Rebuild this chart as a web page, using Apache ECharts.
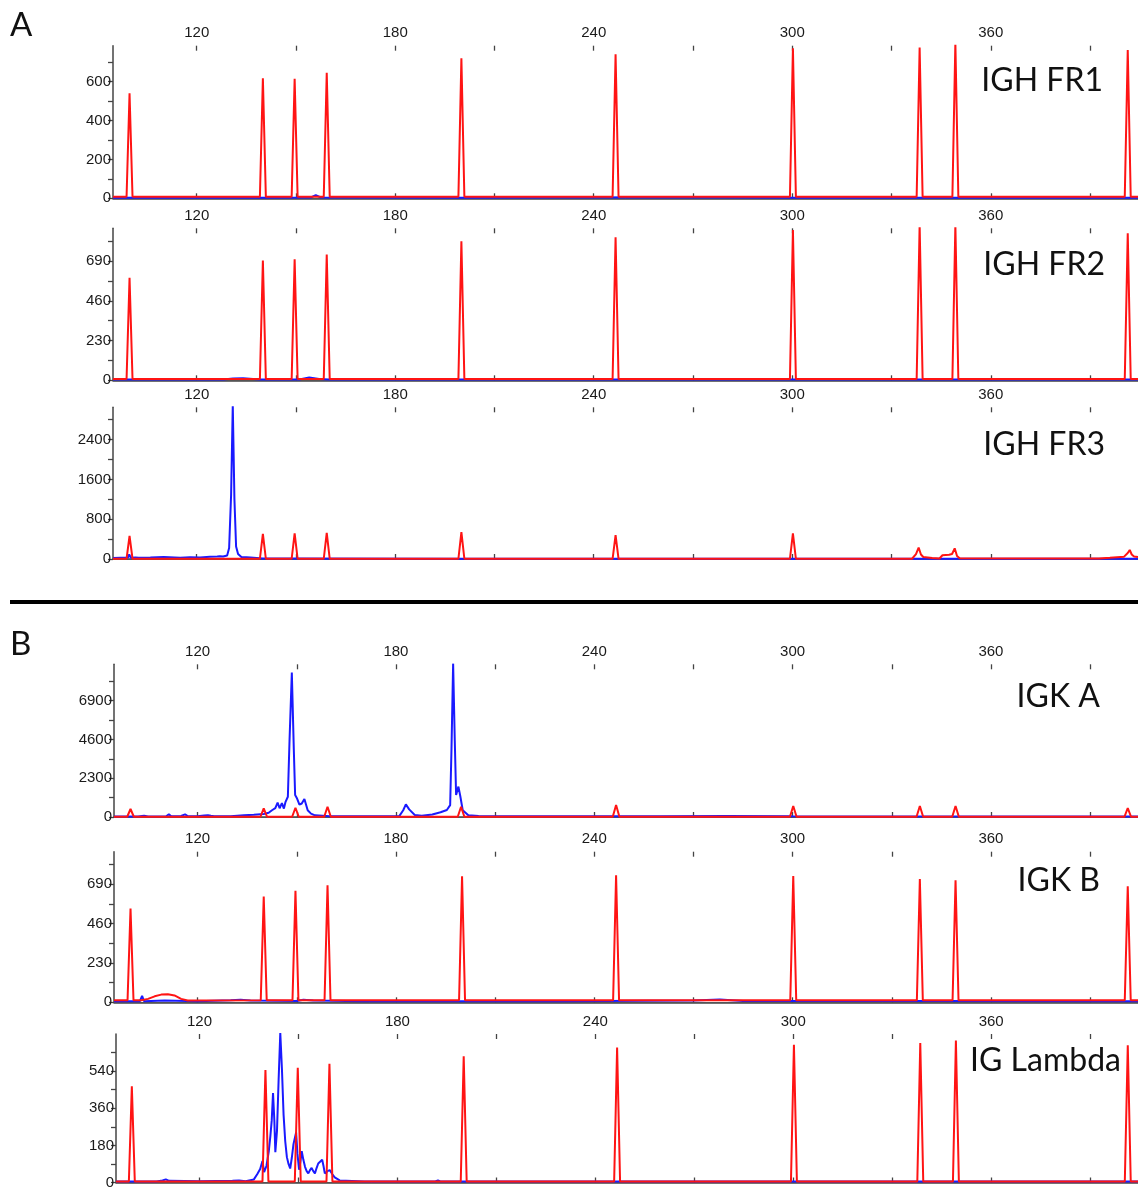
<!DOCTYPE html>
<html>
<head>
<meta charset="utf-8">
<title>IGH / IGK / IG Lambda</title>
<script src="https://cdn.jsdelivr.net/npm/echarts@6.0.0/dist/echarts.min.js"></script>
<style>
html, body { margin: 0; padding: 0; background: #fff; }
#chart { width: 1138px; height: 1190px; }
</style>
</head>
<body>
<div id="chart"></div>
<script>
// size axis (bp), shared by all panels
var sizeMin = 94.7, sizeMax = 404.5;
var sizeLabels = [120, 180, 240, 300, 360];
var sizeTicks = [120, 150, 180, 210, 240, 270, 300, 330, 360, 390];

var panelNames = ['IGH FR1', 'IGH FR2', 'IGH FR3', 'IGK A', 'IGK B', 'IG Lambda'];
var rfuMax = [785, 880, 3050, 9050, 880, 720];
var rfuLabels = [
	[0, 200, 400, 600],
	[0, 230, 460, 690],
	[0, 800, 1600, 2400],
	[0, 2300, 4600, 6900],
	[0, 230, 460, 690],
	[0, 180, 360, 540]
];
var rfuTicks = [
	[0, 100, 200, 300, 400, 500, 600, 700],
	[0, 115, 230, 345, 460, 575, 690, 805],
	[0, 400, 800, 1200, 1600, 2000, 2400, 2800],
	[0, 1150, 2300, 3450, 4600, 5750, 6900, 8050],
	[0, 115, 230, 345, 460, 575, 690, 805],
	[0, 90, 180, 270, 360, 450, 540, 630]
];

// traces: [size, rfu]
var fr1Red = [[94.7,8],[98.8,8],[99.7,540],[100.6,8],[139.1,8],[140.0,617],[140.9,8],[148.7,8],[149.6,615],[150.5,8],
	[158.4,8],[159.3,646],[160.2,8],[199.1,8],[200.0,720],[200.9,8],[245.7,8],[246.6,741],[247.5,8],[299.3,8],[300.2,772],[301.1,8],
	[337.6,8],[338.5,775],[339.4,8],[348.4,8],[349.3,800],[350.2,8],[400.5,8],[401.4,763],[402.3,8],[404.5,8]];
var fr1Blue = [[94.7,3],[130,4],[140,3],[154.5,4],[156,16],[157.5,4],[200,3],[260,5],[300,3],[404.5,3]];

var fr2Red = [[94.7,8],[98.8,8],[99.7,593],[100.6,8],[139.1,8],[140.0,694],[140.9,8],[148.7,8],[149.6,701],[150.5,8],
	[158.4,8],[159.3,728],[160.2,8],[199.1,8],[200.0,805],[200.9,8],[245.7,8],[246.6,828],[247.5,8],[299.3,8],[300.2,870],[301.1,8],
	[337.6,8],[338.5,900],[339.4,8],[348.4,8],[349.3,900],[350.2,8],[400.5,8],[401.4,851],[402.3,8],[404.5,8]];
var fr2Blue = [[94.7,4],[128,4],[131,10],[134,12],[137,8],[139,4],[151,5],[154,16],[157,7],[160,4],[250,5],[404.5,4]];

var fr3Red = [[94.7,5],[98.8,5],[99.7,463],[100.6,5],[139.1,5],[140.0,503],[140.9,5],[148.7,5],[149.6,517],[150.5,5],
	[158.4,5],[159.3,524],[160.2,5],[199.1,5],[200.0,540],[200.9,5],[245.7,5],[246.6,480],[247.5,5],[299.3,5],[300.2,517],[301.1,5],
	[336.2,5],[337.4,100],[338.2,228],[338.9,90],[339.6,40],[342.3,20],[344.5,10],[345.4,75],[347.4,85],[348.3,100],[349.1,215],
	[349.8,60],[350.6,15],[392.7,10],[396,25],[400.3,47],[401.4,120],[402.0,181],[402.6,90],[403.3,50],[404.5,40]];
var fr3Blue = [[94.7,20],[99.2,30],[99.6,90],[100.1,25],[101.5,30],[102,55],[102.5,25],[106,30],[110,40],[115,25],[118,35],
	[121,30],[124,45],[126.2,50],[126.6,85],[127,55],[128,50],[129.2,70],[129.8,220],[130.4,1300],[130.9,3100],[131.4,1200],
	[131.9,250],[132.5,100],[133.5,40],[135,35],[135.6,55],[136.2,30],[140,10],[150,8],[200,5],[404.5,5]];

var igkaRed = [[94.7,15],[98.7,15],[99.7,475],[100.7,15],[139.0,15],[140.0,515],[141.0,15],[148.6,15],[149.6,550],[150.6,15],
	[158.3,15],[159.3,610],[160.3,15],[198.7,15],[199.7,610],[200.7,15],[245.6,15],[246.6,710],[247.6,15],[299.2,15],[300.2,650],[301.2,15],
	[337.5,15],[338.5,650],[339.5,15],[348.3,15],[349.3,650],[350.3,15],[400.4,15],[401.4,530],[402.4,15],[404.5,15]];
var igkaBlue = [[94.7,30],[102,30],[103.8,80],[105,30],[110.5,40],[111.3,160],[112,40],[115,60],[116.2,160],[117,60],[120,40],
	[122,90],[123.1,110],[124,70],[125,40],[130,40],[134,100],[137,130],[140,180],[141.5,250],[142.5,400],[143.5,520],[144.2,850],
	[144.8,520],[145.5,820],[146.1,500],[146.6,900],[147.3,1200],[147.8,4500],[148.5,8560],[149.1,4000],[149.5,1300],[150.0,1130],
	[150.8,730],[151.5,800],[152.3,1070],[153.3,400],[154.3,200],[155.5,100],[160,50],[170,40],[181,50],[182.2,400],[183,750],
	[184,450],[185.7,120],[187.8,80],[191,150],[193.5,280],[195.4,415],[196.4,700],[196.8,4000],[197.3,9100],[197.8,4500],
	[198.2,1300],[198.9,1800],[199.5,1200],[200.2,400],[201.9,100],[205,60],[220,40],[260,40],[280,60],[300,40],[404.5,30]];

var igkbRed = [[94.7,12],[98.8,12],[99.7,548],[100.6,12],[103,12],[105,20],[107,35],[109,45],[111,47],[113,40],[115,20],[117,10],
	[139.1,12],[140.0,618],[140.9,12],[148.7,12],[149.6,651],[150.5,12],[158.4,12],[159.3,684],[160.2,12],[199.1,12],[200.0,736],[200.9,12],
	[245.7,12],[246.6,742],[247.5,12],[299.3,12],[300.2,738],[301.1,12],[337.6,12],[338.5,720],[339.4,12],[348.4,12],[349.3,713],[350.2,12],
	[400.5,12],[401.4,678],[402.3,12],[404.5,12]];
var igkbBlue = [[94.7,6],[102.5,6],[103.2,38],[103.8,6],[110,10],[120,6],[130,12],[133,15],[136,10],[150,8],[152,15],[155,10],
	[170,6],[230,6],[270,10],[278,16],[285,8],[340,8],[404.5,6]];

var lambdaRed = [[94.7,5],[98.6,5],[99.5,467],[100.4,5],[139.1,5],[140.0,545],[140.9,5],[148.9,5],[149.8,556],[150.7,5],
	[158.5,5],[159.4,576],[160.3,5],[199.2,5],[200.1,612],[201.0,5],[245.7,5],[246.6,654],[247.5,5],[299.3,5],[300.2,668],[301.1,5],
	[337.6,5],[338.5,676],[339.4,5],[348.4,5],[349.3,688],[350.2,5],[400.5,5],[401.4,665],[402.3,5],[404.5,5]];
var lambdaBlue = [[94.7,5],[107,5],[108.8,10],[109.8,15],[110.8,8],[120,6],[130,8],[132,10],[134,6],[136.5,15],[137.5,40],
	[138.4,65],[139.1,104],[139.6,50],[140.3,80],[141,150],[141.5,226],[141.9,300],[142.3,434],[142.7,300],[143,147],[143.5,250],
	[144,500],[144.5,725],[145,550],[145.5,328],[146,200],[146.5,123],[147,90],[147.5,68],[148,120],[148.5,186],[148.9,215],
	[149.3,242],[149.7,140],[150.2,62],[150.6,100],[151,152],[151.5,110],[152,76],[152.5,55],[153,44],[153.5,60],[154,71],
	[154.5,55],[155,44],[155.5,70],[156,92],[156.6,85],[157.2,110],[157.6,80],[158,44],[158.8,55],[159.5,60],[160.3,40],
	[161,25],[162.5,10],[170,5],[191.5,5],[192.3,10],[193,5],[404.5,5]];

var reds = [fr1Red, fr2Red, fr3Red, igkaRed, igkbRed, lambdaRed];
var blues = [fr1Blue, fr2Blue, fr3Blue, igkaBlue, igkbBlue, lambdaBlue];

// layout of the six panels (px)
var panelTop = [45.7, 228.3, 407.3, 664.3, 851.7, 1034];
var panelBottom = [198.3, 380.3, 559, 817, 1002.3, 1186];
var panelLeft = [113, 113, 113, 114, 114, 116];
var nameRight = [1103, 1105, 1105, 1100, 1100, 1121];
var nameMiddle = [81, 265, 445, 697, 881, 1061];

var axisColor = '#444';
var labelFont = 'Liberation Sans, Arial, sans-serif';

var chart = echarts.init(document.getElementById('chart'));
var grids = [], xAxes = [], yAxes = [], series = [], graphics = [];

function plain(v) {
	return String(v);
}

for (var i = 0; i < 6; i++) {
	grids.push({
		left: panelLeft[i], right: 0,
		top: panelTop[i], height: panelBottom[i] - panelTop[i]
	});
	// top axis with labels, ticks going up
	xAxes.push({
		type: 'value', gridIndex: i, position: 'top',
		min: sizeMin, max: sizeMax,
		axisLine: { show: true, lineStyle: { color: axisColor, width: 1.5 } },
		axisTick: { show: true, customValues: sizeTicks, length: 5, lineStyle: { color: axisColor, width: 1.3 } },
		axisLabel: { customValues: sizeLabels, formatter: plain, fontSize: 15, color: '#1a1a1a', fontFamily: labelFont, margin: 5 },
		splitLine: { show: false }
	});
	// same axis, ticks going down into the plot
	xAxes.push({
		type: 'value', gridIndex: i, position: 'top',
		min: sizeMin, max: sizeMax,
		axisLine: { show: false },
		axisTick: { show: true, inside: true, customValues: sizeTicks, length: 5, lineStyle: { color: axisColor, width: 1.3 } },
		axisLabel: { show: false },
		splitLine: { show: false }
	});
	// baseline
	xAxes.push({
		type: 'value', gridIndex: i, position: 'bottom',
		min: sizeMin, max: sizeMax,
		axisLine: { show: true, lineStyle: { color: '#555', width: 1 } },
		axisTick: { show: false },
		axisLabel: { show: false },
		splitLine: { show: false }
	});
	yAxes.push({
		type: 'value', gridIndex: i,
		min: 0, max: rfuMax[i],
		axisLine: { show: true, lineStyle: { color: axisColor, width: 1.5 } },
		axisTick: { show: true, customValues: rfuTicks[i], length: 5, lineStyle: { color: axisColor, width: 1.3 } },
		axisLabel: { customValues: rfuLabels[i], formatter: plain, fontSize: 15, color: '#1a1a1a', fontFamily: labelFont, margin: 2 },
		splitLine: { show: false }
	});
	series.push({
		type: 'line', xAxisIndex: i * 3, yAxisIndex: i,
		data: blues[i], showSymbol: false, clip: true,
		lineStyle: { color: '#1a1aff', width: 2 }, z: 3
	});
	series.push({
		type: 'line', xAxisIndex: i * 3, yAxisIndex: i,
		data: reds[i], showSymbol: false, clip: true,
		lineStyle: { color: '#ff1414', width: 2 }, z: 4
	});
	graphics.push({
		type: 'text', right: 1138 - nameRight[i], top: nameMiddle[i] - 16,
		style: { text: panelNames[i], font: '32px Lato, sans-serif', fill: '#111' }
	});
}

graphics.push({ type: 'text', left: 10, top: 9, style: { text: 'A', font: '33px Lato, sans-serif', fill: '#111' } });
graphics.push({ type: 'text', left: 10, top: 628, style: { text: 'B', font: '33px Lato, sans-serif', fill: '#111' } });
graphics.push({ type: 'rect', shape: { x: 10, y: 600, width: 1128, height: 4 }, style: { fill: '#000' } });

chart.setOption({
	animation: false,
	backgroundColor: '#fff',
	grid: grids,
	xAxis: xAxes,
	yAxis: yAxes,
	series: series,
	graphic: graphics
});
</script>
</body>
</html>
